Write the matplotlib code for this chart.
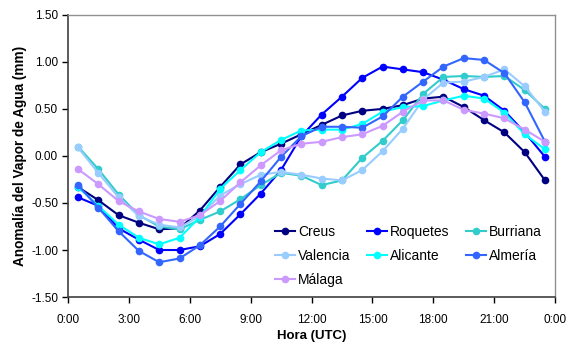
import matplotlib
matplotlib.use("Agg")
import matplotlib.pyplot as plt

plt.rcParams["font.family"] = ["Liberation Sans", "DejaVu Sans"]

# hourly means at half past each hour (UTC)
hours = [h + 0.5 for h in range(24)]

creus = [-0.33, -0.47, -0.63, -0.71, -0.78, -0.77, -0.58, -0.33, -0.09, 0.04, 0.13, 0.23,
         0.33, 0.43, 0.48, 0.50, 0.54, 0.61, 0.63, 0.52, 0.38, 0.25, 0.04, -0.26]
roquetes = [-0.44, -0.53, -0.77, -0.89, -1.00, -1.00, -0.96, -0.83, -0.62, -0.40, -0.15, 0.21,
            0.44, 0.63, 0.83, 0.95, 0.92, 0.89, 0.81, 0.71, 0.64, 0.48, 0.25, -0.01]
burriana = [0.10, -0.14, -0.41, -0.63, -0.75, -0.78, -0.68, -0.59, -0.46, -0.31, -0.18, -0.21,
            -0.31, -0.26, -0.02, 0.16, 0.38, 0.66, 0.84, 0.85, 0.84, 0.85, 0.70, 0.50]
valencia = [0.09, -0.18, -0.44, -0.64, -0.73, -0.76, -0.64, -0.42, -0.30, -0.20, -0.17, -0.20,
            -0.24, -0.26, -0.15, 0.05, 0.29, 0.60, 0.78, 0.79, 0.84, 0.92, 0.74, 0.47]
alicante = [-0.33, -0.53, -0.73, -0.87, -0.94, -0.87, -0.65, -0.35, -0.15, 0.04, 0.17, 0.27,
            0.28, 0.28, 0.34, 0.47, 0.52, 0.53, 0.59, 0.64, 0.61, 0.46, 0.23, 0.07]
almeria = [-0.31, -0.55, -0.80, -1.01, -1.13, -1.09, -0.95, -0.75, -0.51, -0.27, -0.01, 0.21,
           0.31, 0.31, 0.30, 0.42, 0.63, 0.79, 0.95, 1.04, 1.02, 0.88, 0.57, 0.15]
malaga = [-0.14, -0.30, -0.48, -0.59, -0.67, -0.70, -0.63, -0.48, -0.28, -0.10, 0.06, 0.13,
          0.15, 0.20, 0.23, 0.32, 0.47, 0.59, 0.59, 0.49, 0.45, 0.40, 0.28, 0.15]

names = ["Creus", "Roquetes", "Burriana", "Valencia", "Alicante", "Almería", "Málaga"]
colors = ["#000080", "#0000FF", "#33CCCC", "#99CCFF", "#00FFFF", "#3366FF", "#CC99FF"]

tick_hours = list(range(0, 25, 3))
tick_labels = [f"{h % 24}:00" for h in tick_hours]
y_ticks = [-1.5, -1.0, -0.5, 0.0, 0.5, 1.0, 1.5]


def main():
    fig = plt.figure(figsize=(5.7, 3.45), dpi=100)
    ax = fig.add_axes([0.119, 0.139, 0.855, 0.818])

    series = [creus, roquetes, burriana, valencia, alicante, almeria, malaga]
    lines = []
    for name, vals, c in zip(names, series, colors):
        (ln,) = ax.plot(hours, vals, color=c, lw=1.5, marker="o", markersize=5.5,
                        markeredgewidth=0, label=name)
        lines.append(ln)

    ax.set_xlim(0, 24)
    ax.set_ylim(-1.5, 1.5)
    ax.set_xticks(tick_hours)
    ax.set_xticklabels(tick_labels)
    ax.set_yticks(y_ticks)
    ax.set_yticklabels([f"{v:.2f}" for v in y_ticks])
    ax.tick_params(direction="out", length=4, width=1, labelsize=8.5, colors="#000000")
    ax.tick_params(axis="x", pad=8)
    ax.tick_params(axis="y", pad=3)

    for side in ["left", "bottom"]:
        ax.spines[side].set_color("#404040")
        ax.spines[side].set_linewidth(1.2)
    for side in ["top", "right"]:
        ax.spines[side].set_color("#909090")
        ax.spines[side].set_linewidth(1.0)

    ax.set_xlabel("Hora (UTC)", fontsize=9.5, fontweight="bold", labelpad=3)
    ax.set_ylabel("Anomalía del Vapor de Agua (mm)", fontsize=9.8, fontweight="bold", labelpad=3)

    # legend is filled column by column, so reorder to read row by row
    order = [0, 3, 6, 1, 4, 2, 5]
    ax.legend([lines[i] for i in order], [names[i] for i in order],
              ncol=3, loc="lower right", bbox_to_anchor=(0.99, 0.005), frameon=False,
              fontsize=10, handlelength=1.45, handletextpad=0.2, columnspacing=1.2,
              labelspacing=0.74, borderaxespad=0.2)

    fig.savefig("out.png", dpi=100)


if __name__ == "__main__":
    main()
